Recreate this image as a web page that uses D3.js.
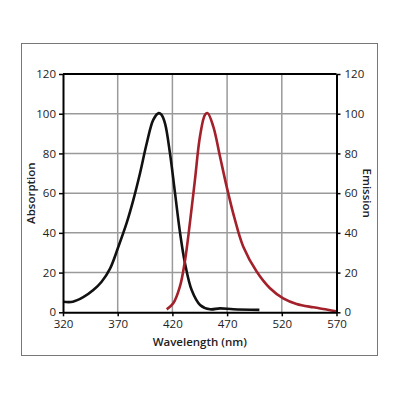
<!DOCTYPE html>
<html>
<head>
<meta charset="utf-8">
<script src="https://cdn.jsdelivr.net/npm/d3@7"></script>
<style>
  body { margin: 0; background: #fff; }
  text { font-family: "Open Sans", "Noto Sans", sans-serif; fill: #222; }
</style>
</head>
<body>
<svg id="chart" width="400" height="400"></svg>
<script>
// absorption spectrum (black), left axis
var absWavelength = [320, 329, 338.5, 347.7, 355.3, 363, 370.6, 378.2, 384.3, 390.4, 396.5, 402.6, 407.5, 410, 413.3, 417.8, 422.4, 427, 431.5, 437.6, 445.3, 454.4, 463.5, 475.7, 499.5];
var absValue      = [5.3, 5.3, 7.6, 11.2, 15.4, 22, 33, 45, 56.6, 70, 85, 97, 100.3, 99.5, 95, 80, 60, 40, 24.7, 11.2, 3.7, 1.5, 2, 1.5, 1.2];

// emission spectrum (red), right axis
var emWavelength = [414.8, 420.8, 426.9, 431.5, 436, 440.6, 445.2, 449.8, 452.2, 457.4, 463.5, 469.6, 477.2, 484.8, 497, 509.2, 521.3, 533.5, 548.8, 562, 569.5];
var emValue      = [1.5, 4.5, 13, 26, 45, 66.7, 88.5, 99.5, 100.3, 93.5, 78.5, 63.3, 46.5, 33, 20.5, 12.1, 7, 4.2, 2.5, 1.3, 0.5];

var xTicks = [320, 370, 420, 470, 520, 570];
var yTicks = [0, 20, 40, 60, 80, 100, 120];

var svg = d3.select("#chart");

var plotLeft = 63, plotRight = 336.5, plotTop = 74, plotBottom = 312.3;

var x = d3.scaleLinear().domain([320, 570]).range([plotLeft, plotRight]);
var yAbs = d3.scaleLinear().domain([0, 120]).range([plotBottom, plotTop]);
var yEm = d3.scaleLinear().domain([0, 120]).range([plotBottom, plotTop]);

//outer frame
svg.append("rect")
    .attr("x", 21.5).attr("y", 43.5)
    .attr("width", 356).attr("height", 312)
    .attr("fill", "none")
    .attr("stroke", "#777")
    .attr("stroke-width", 1);

//grid
var grid = svg.append("g").attr("stroke", "#9a9a9a").attr("stroke-width", 1.5);
grid.selectAll("line.v")
    .data(xTicks.slice(1, -1))
    .enter().append("line")
    .attr("class", "v")
    .attr("x1", function(d) { return x(d); })
    .attr("x2", function(d) { return x(d); })
    .attr("y1", plotTop).attr("y2", plotBottom);
grid.selectAll("line.h")
    .data(yTicks.slice(1, -1))
    .enter().append("line")
    .attr("class", "h")
    .attr("y1", function(d) { return yAbs(d); })
    .attr("y2", function(d) { return yAbs(d); })
    .attr("x1", plotLeft).attr("x2", plotRight);

//curves
var absLine = d3.line()
    .x(function(d, i) { return x(absWavelength[i]); })
    .y(function(d) { return yAbs(d); })
    .curve(d3.curveCatmullRom.alpha(0.5));
var emLine = d3.line()
    .x(function(d, i) { return x(emWavelength[i]); })
    .y(function(d) { return yEm(d); })
    .curve(d3.curveCatmullRom.alpha(0.5));

svg.append("path")
    .attr("d", absLine(absValue))
    .attr("fill", "none")
    .attr("stroke", "#111")
    .attr("stroke-width", 2.6)
    .attr("stroke-linejoin", "round");
svg.append("path")
    .attr("d", emLine(emValue))
    .attr("fill", "none")
    .attr("stroke", "#a3212b")
    .attr("stroke-width", 2.6)
    .attr("stroke-linejoin", "round");

//axes
function styleAxis(g) {
    g.select(".domain").attr("stroke", "#000").attr("stroke-width", 2);
    g.selectAll(".tick line").attr("stroke", "#000").attr("stroke-width", 1.5);
    g.selectAll(".tick text").style("font-size", "11.5px").attr("fill", "#222");
}

svg.append("g")
    .attr("transform", "translate(0," + plotBottom + ")")
    .call(d3.axisBottom(x).tickValues(xTicks).tickSize(4).tickSizeOuter(0).tickPadding(4))
    .call(styleAxis);
svg.append("g")
    .attr("transform", "translate(" + plotLeft + ",0)")
    .call(d3.axisLeft(yAbs).tickValues(yTicks).tickSize(4).tickSizeOuter(0).tickPadding(3))
    .call(styleAxis);
svg.append("g")
    .attr("transform", "translate(" + plotRight + ",0)")
    .call(d3.axisRight(yEm).tickValues(yTicks).tickSize(4).tickSizeOuter(0).tickPadding(4))
    .call(styleAxis);

//top border
svg.append("line")
    .attr("x1", plotLeft).attr("x2", plotRight)
    .attr("y1", plotTop).attr("y2", plotTop)
    .attr("stroke", "#000").attr("stroke-width", 2);

//axis titles
svg.append("text")
    .attr("x", (plotLeft + plotRight) / 2)
    .attr("y", 346)
    .attr("text-anchor", "middle")
    .style("font-size", "11.5px")
    .style("font-weight", 600)
    .text("Wavelength (nm)");
svg.append("text")
    .attr("transform", "translate(35," + yAbs(60) + ") rotate(-90)")
    .attr("text-anchor", "middle")
    .style("font-size", "11.5px")
    .style("font-weight", 600)
    .text("Absorption");
svg.append("text")
    .attr("transform", "translate(363," + yAbs(60) + ") rotate(90)")
    .attr("text-anchor", "middle")
    .style("font-size", "11.5px")
    .style("font-weight", 600)
    .text("Emission");
</script>
</body>
</html>
